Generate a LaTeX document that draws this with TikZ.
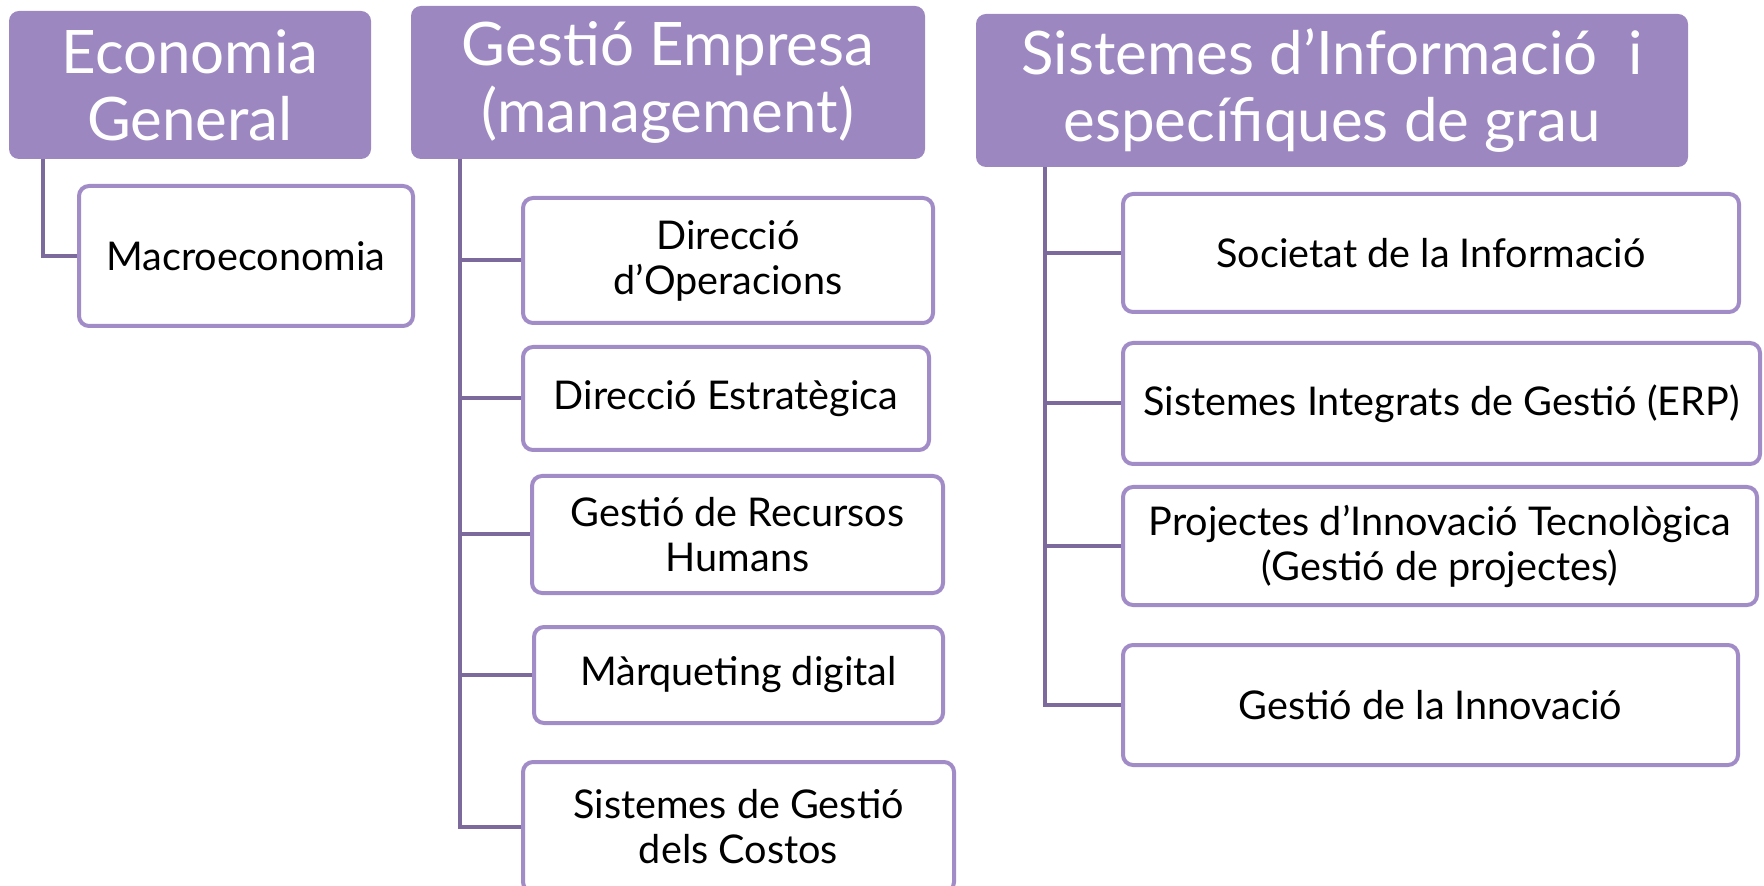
\documentclass[tikz,border=0pt]{standalone}
\usepackage{fontspec}
\setmainfont{Lato}
\newfontfamily\narrowfont[FakeStretch=0.87]{Lato}
\usepackage{tikz}

\definecolor{headfill}{RGB}{156,135,193}
\definecolor{boxline}{RGB}{161,140,200}
\definecolor{linkcol}{RGB}{124,106,156}

\begin{document}
\begin{tikzpicture}[x=0.5pt, y=-0.5pt,
  head/.style = {rectangle, rounded corners=5pt, fill=headfill, text=white, align=center, inner sep=0pt, font=\fontsize{30}{33.5}\selectfont},
  item/.style = {rectangle, rounded corners=5pt, draw=boxline, line width=2pt, fill=white, align=center, inner sep=0pt, font=\fontsize{19.8}{22.5}\selectfont},
  link/.style = {draw=linkcol, line width=2pt}]
\useasboundingbox (0,0) rectangle (1764,886);

% capcaleres
\node[head, minimum width=181pt, minimum height=74pt] (econ) at (190,85) {Economia\\General};
\node[head, minimum width=257pt, minimum height=76.5pt] (gestio) at (668,82.5) {Gestió Empresa\\(management)};
\node[head, minimum width=356pt, minimum height=76.5pt] (sist) at (1332,90.5) {Sistemes d’Informació~~i\\específiques de grau};

% assignatures
\node[item, minimum width=167pt, minimum height=70pt] (macro) at (246,256) {Macroeconomia};

\node[item, minimum width=205pt, minimum height=62.5pt] (dirop) at (728,260.5) {Direcció\\d’Operacions};
\node[item, minimum width=203pt, minimum height=51.5pt] (direst) at (726,398.5) {Direcció Estratègica};
\node[item, minimum width=205.5pt, minimum height=58.5pt] (rrhh) at (737.5,534.5) {Gestió de Recursos\\Humans};
\node[item, minimum width=204.5pt, minimum height=48pt] (marq) at (738.5,675) {Màrqueting digital};
\node[item, minimum width=215.5pt, minimum height=65pt] (costos) at (738.5,827) {Sistemes de Gestió\\dels Costos};

\begin{scope}[every node/.append style={font=\narrowfont\fontsize{20.6}{23.5}\selectfont}]
\node[item, minimum width=308pt, minimum height=59pt] (soc) at (1431,253) {Societat de la Informació};
\node[item, minimum width=318.5pt, minimum height=60.5pt] (erp) at (1441.5,403.5) {Sistemes Integrats de Gestió (ERP)};
\node[item, minimum width=317pt, minimum height=59pt] (proj) at (1440,546) {Projectes d’Innovació Tecnològica\\(Gestió de projectes)};
\node[item, minimum width=307.5pt, minimum height=60pt] (innov) at (1430.5,705) {Gestió de la Innovació};
\end{scope}

% connectors
\draw[link] ([xshift=17pt]econ.south west) |- (macro.west);
\foreach \n in {dirop,direst,rrhh,marq,costos}
  \draw[link] ([xshift=24.5pt]gestio.south west) |- (\n.west);
\foreach \n in {soc,erp,proj,innov}
  \draw[link] ([xshift=34.5pt]sist.south west) |- (\n.west);

\end{tikzpicture}
\end{document}
